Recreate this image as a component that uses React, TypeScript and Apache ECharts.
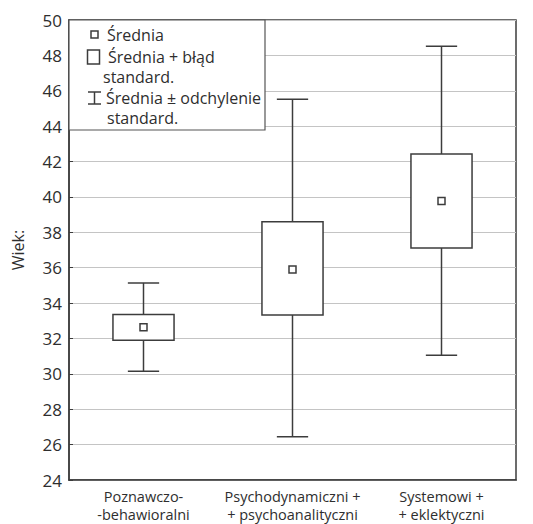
import React, { useEffect, useRef } from "react";
import * as echarts from "echarts";

const categories = ["Poznawczo-\n-behawioralni", "Psychodynamiczni +\n+ psychoanalityczni", "Systemowi +\n+ eklektyczni"];
const means = [32.63, 35.9, 39.77];
const seLow = [31.9, 33.33, 37.12];
const seHigh = [33.36, 38.6, 42.42];
const sdLow = [30.14, 26.44, 31.05];
const sdHigh = [35.14, 45.52, 48.52];
const yTicks = { min: 24, max: 50, interval: 2 };

const LINE = "#3c3c3c";
const TEXT = "#2e2e2e";
const FONT = "Open Sans";

export default function App() {
  const ref = useRef<HTMLDivElement>(null);
  useEffect(() => {
    document.body.style.margin = "0";
    if (!ref.current) return;
    const chart = echarts.init(ref.current, null, { renderer: "svg" });
    const data = categories.map((_, i) => [i, means[i], seLow[i], seHigh[i], sdLow[i], sdHigh[i]]);
    const st = { stroke: LINE, lineWidth: 1.5, fill: "none" };
    const lt = (text: string, x: number, y: number) => ({
      type: "text",
      x,
      y,
      style: { text, fill: TEXT, fontFamily: FONT, fontSize: 16, lineHeight: 15, verticalAlign: "middle" },
      z: 11,
    });
    chart.setOption({
      animation: false,
      backgroundColor: "#ffffff",
      textStyle: { fontFamily: FONT },
      grid: { left: 69, top: 20, right: 17, bottom: 44, show: true, borderColor: LINE, borderWidth: 1.5, backgroundColor: "transparent", outerBoundsMode: "none", containLabel: false },
      xAxis: {
        type: "category",
        data: categories,
        axisLine: { lineStyle: { color: LINE, width: 1.5 } },
        axisTick: { alignWithLabel: true, inside: true, length: 4, lineStyle: { color: LINE } },
        axisLabel: { interval: 0, color: TEXT, fontSize: 14.5, lineHeight: 18, margin: 7, fontFamily: FONT },
        splitLine: { show: false },
      },
      yAxis: {
        type: "value",
        min: yTicks.min,
        max: yTicks.max,
        interval: yTicks.interval,
        name: "Wiek:",
        nameLocation: "middle",
        nameGap: 43,
        nameTextStyle: { color: TEXT, fontSize: 16, fontFamily: FONT },
        axisLine: { show: true, lineStyle: { color: LINE, width: 1.5 } },
        axisTick: { show: true, inside: true, length: 4, lineStyle: { color: LINE } },
        axisLabel: { color: TEXT, fontSize: 17, margin: 7, fontFamily: FONT },
        splitLine: { show: true, lineStyle: { color: "#c4c4c4", width: 1 } },
      },
      series: [
        {
          type: "custom",
          data,
          encode: { x: 0, y: [1, 2, 3, 4, 5] },
          renderItem: (params: any, api: any) => {
            const x = api.value(0);
            const band = api.size([1, 0])[0];
            const boxW = band * 0.41;
            const capW = band * 0.21;
            const cm = api.coord([x, api.value(1)]);
            const pSeL = api.coord([x, api.value(2)]);
            const pSeH = api.coord([x, api.value(3)]);
            const pSdL = api.coord([x, api.value(4)]);
            const pSdH = api.coord([x, api.value(5)]);
            const cx = cm[0];
            return {
              type: "group",
              children: [
                { type: "line", shape: { x1: cx, y1: pSdH[1], x2: cx, y2: pSeH[1] }, style: st },
                { type: "line", shape: { x1: cx, y1: pSeL[1], x2: cx, y2: pSdL[1] }, style: st },
                { type: "line", shape: { x1: cx - capW / 2, y1: pSdH[1], x2: cx + capW / 2, y2: pSdH[1] }, style: st },
                { type: "line", shape: { x1: cx - capW / 2, y1: pSdL[1], x2: cx + capW / 2, y2: pSdL[1] }, style: st },
                { type: "rect", shape: { x: cx - boxW / 2, y: pSeH[1], width: boxW, height: pSeL[1] - pSeH[1] }, style: { stroke: LINE, lineWidth: 1.5, fill: "#ffffff" } },
                { type: "rect", shape: { x: cx - 3.5, y: cm[1] - 3.5, width: 7, height: 7 }, style: { stroke: LINE, lineWidth: 1.5, fill: "#ffffff" } },
              ],
            };
          },
        },
      ],
      graphic: [
        { type: "rect", shape: { x: 69, y: 20, width: 196, height: 110 }, style: { fill: "#ffffff", stroke: "#555555", lineWidth: 1.2 }, z: 10 },
        { type: "rect", shape: { x: 91, y: 31, width: 7, height: 7 }, style: { fill: "#ffffff", stroke: LINE, lineWidth: 1.5 }, z: 11 },
        lt("Średnia", 107, 35),
        { type: "rect", shape: { x: 87.5, y: 50, width: 12, height: 14 }, style: { fill: "#ffffff", stroke: LINE, lineWidth: 1.5 }, z: 11 },
        lt("Średnia + błąd", 108, 57),
        lt("standard.", 103, 77),
        { type: "line", shape: { x1: 88, y1: 92, x2: 101, y2: 92 }, style: st, z: 11 },
        { type: "line", shape: { x1: 88, y1: 104, x2: 101, y2: 104 }, style: st, z: 11 },
        { type: "line", shape: { x1: 94.5, y1: 92, x2: 94.5, y2: 104 }, style: st, z: 11 },
        lt("Średnia ± odchylenie", 106, 98),
        lt("standard.", 107, 118),
      ],
    });
    return () => chart.dispose();
  }, []);
  return <div ref={ref} style={{ width: 533, height: 524 }} />;
}
